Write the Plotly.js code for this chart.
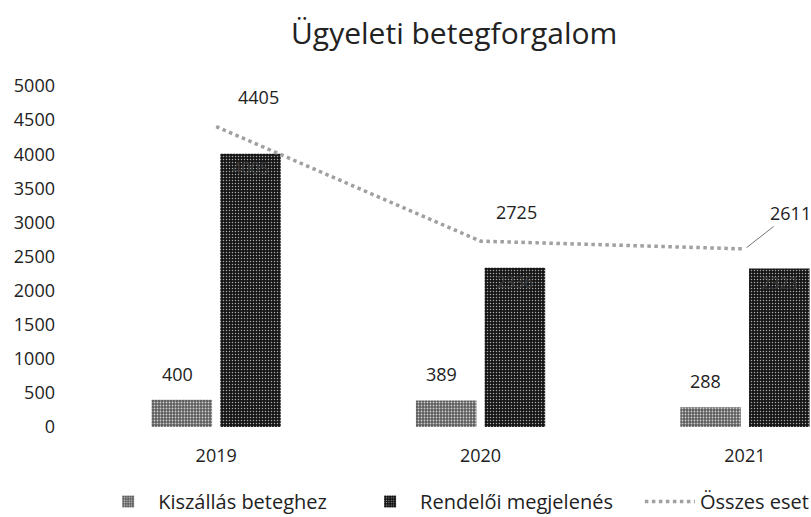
<!DOCTYPE html>
<html>
<head>
<meta charset="utf-8">
<script src="https://cdn.plot.ly/plotly-3.0.1.min.js"></script>
<style>html,body{margin:0;padding:0;background:#fff;}#chart{width:811px;height:517px;}</style>
</head>
<body>
<div id="chart"></div>
<script>
const categories = ['2019', '2020', '2021'];
const kiszallas = [400, 389, 288];
const rendeloi = [4005, 2336, 2323];
const osszes = [4405, 2725, 2611];
const yTicks = [0, 500, 1000, 1500, 2000, 2500, 3000, 3500, 4000, 4500, 5000];

const FONT = 'Open Sans, Noto Sans, sans-serif';

const traces = [
  {
    type: 'bar', name: 'Kiszállás beteghez', x: categories, y: kiszallas, legend: 'legend',
    marker: {color: '#666', pattern: {shape: '.', fgcolor: '#d0d0d0', bgcolor: '#5a5a5a', size: 3, solidity: 0.3}},
    hoverinfo: 'skip'
  },
  {
    type: 'bar', name: 'Rendelői megjelenés', x: categories, y: rendeloi, legend: 'legend2',
    text: rendeloi.map(String), textposition: 'inside', insidetextanchor: 'end',
    textfont: {family: FONT, size: 16, color: '#3a3a3a'},
    marker: {color: '#111', pattern: {shape: '.', fgcolor: '#a8a8a8', bgcolor: '#151515', size: 3, solidity: 0.2}},
    hoverinfo: 'skip'
  },
  {
    type: 'scatter', mode: 'lines', name: 'Összes eset', x: categories, y: osszes, legend: 'legend3',
    line: {color: '#a0a0a0', width: 3.5, dash: 'dot'},
    hoverinfo: 'skip'
  }
];

const annotations = [];
categories.forEach((c, i) => {
  annotations.push({xref: 'x', yref: 'y', x: i, y: kiszallas[i], text: String(kiszallas[i]), showarrow: false,
    xshift: -39, yshift: 26, font: {family: FONT, size: 18, color: '#222'}});
});
[[42, 30], [36, 29]].forEach((s, i) => {
  annotations.push({xref: 'x', yref: 'y', x: i, y: osszes[i], text: String(osszes[i]), showarrow: false,
    xshift: s[0], yshift: s[1], font: {family: FONT, size: 18, color: '#222'}});
});
annotations.push({xref: 'x', yref: 'y', x: 2, y: osszes[2], text: String(osszes[2]), showarrow: true,
  arrowhead: 0, arrowwidth: 1, arrowcolor: '#777', ax: 46, ay: -36, standoff: 2,
  font: {family: FONT, size: 18, color: '#222'}});

function legendAt(x) {
  return {orientation: 'h', xref: 'container', yref: 'container', x: x, xanchor: 'left',
    y: 0.03, yanchor: 'middle', font: {family: FONT, size: 20, color: '#222'},
    itemwidth: 50, bgcolor: 'rgba(0,0,0,0)'};
}

const layout = {
  width: 811, height: 517,
  margin: {l: 84, r: 0, t: 86, b: 90, autoexpand: false},
  paper_bgcolor: '#fff', plot_bgcolor: '#fff',
  title: {text: 'Ügyeleti betegforgalom', x: 0.56, xanchor: 'center', y: 0.935, yanchor: 'middle',
    font: {family: FONT, size: 30, color: '#222'}},
  barmode: 'group', bargap: 0.48, bargroupgap: 0.12,
  showlegend: true,
  legend: legendAt(0.121),
  legend2: legendAt(0.444),
  legend3: legendAt(0.789),
  xaxis: {type: 'category', range: [-0.5, 2.25], showgrid: false, zeroline: false, showline: false,
    ticks: '', ticklabelstandoff: 16, tickfont: {family: FONT, size: 18, color: '#222'}, fixedrange: true},
  yaxis: {range: [0, 5000], tickvals: yTicks, ticktext: yTicks.map(String), showgrid: false,
    zeroline: false, showline: false, ticks: '', ticklabelstandoff: 28,
    tickfont: {family: FONT, size: 18, color: '#222'}, fixedrange: true},
  annotations: annotations
};

Plotly.newPlot('chart', traces, layout, {displayModeBar: false, staticPlot: true});
</script>
</body>
</html>
